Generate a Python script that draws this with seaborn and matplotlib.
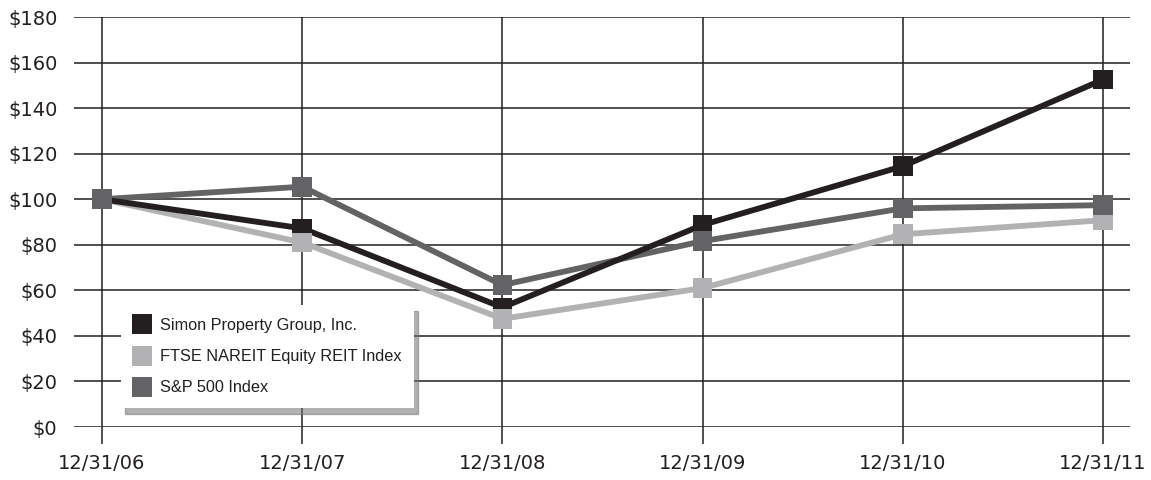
import matplotlib
matplotlib.use("Agg")
import matplotlib.pyplot as plt
import seaborn as sns
import pandas as pd
from matplotlib.lines import Line2D

dates = ["12/31/06", "12/31/07", "12/31/08", "12/31/09", "12/31/10", "12/31/11"]
simon = [100, 87.2, 52.5, 88.7, 114.5, 152.5]
ftse = [100, 81.0, 47.5, 61.0, 84.6, 90.8]
sp500 = [100, 105.5, 62.3, 81.6, 96.0, 97.4]
series_names = ["Simon Property Group, Inc.", "FTSE NAREIT Equity REIT Index", "S&P 500 Index"]
series_colors = ["#231f20", "#b2b2b4", "#636365"]
yticks = [0, 20, 40, 60, 80, 100, 120, 140, 160, 180]

rows = []
for name, vals in zip(series_names, [simon, ftse, sp500]):
    for d, v in zip(dates, vals):
        rows.append({"date": d, "value": v, "series": name})
df = pd.DataFrame(rows)
palette = dict(zip(series_names, series_colors))

sns.set_theme(style="white")
plt.rcParams["font.family"] = ["DejaVu Sans"]

fig = plt.figure(figsize=(11.51, 4.8), dpi=100)
ax = fig.add_axes([74 / 1151, 1 - 427 / 480, (1130 - 74) / 1151, (427 - 17) / 480])

# lines: FTSE, S&P, then Simon on top
line_order = [series_names[1], series_names[2], series_names[0]]
sns.lineplot(data=df, x="date", y="value", hue="series", hue_order=line_order,
             palette=palette, linewidth=4.2, legend=False, ax=ax, zorder=3,
             sort=False)

# markers: Simon, FTSE, S&P on top
marker_df = pd.concat([df[df.series == n] for n in [series_names[0], series_names[1], series_names[2]]])
sns.scatterplot(data=marker_df, x="date", y="value", hue="series", palette=palette,
                marker="s", s=200, linewidth=0, legend=False, ax=ax, zorder=4)

ax.set_ylim(0, 180)
ax.set_xlim(-0.14, 5.135)
ax.set_yticks(yticks)
ax.set_yticklabels([f"${v}" for v in yticks])
ax.set_xlabel("")
ax.set_ylabel("")

for s in ax.spines.values():
    s.set_visible(False)

ax.grid(True, axis="both", color="#231f20", linewidth=1.1)
ax.set_axisbelow(True)
ax.tick_params(axis="y", length=0, pad=12, labelsize=14, labelcolor="#231f20")
ax.tick_params(axis="x", length=12.5, width=1.1, color="#231f20", direction="out",
               pad=7, labelsize=14, labelcolor="#231f20")
ax.xaxis.set_ticks_position("bottom")

handles = [Line2D([0], [0], marker="s", linestyle="none", markersize=14,
                  markerfacecolor=c, markeredgewidth=0) for c in series_colors]
leg = ax.legend(handles, series_names, loc="lower left",
                bbox_to_anchor=(121 / 1151, 1 - 408 / 480), bbox_transform=fig.transFigure,
                borderaxespad=0, frameon=True, fancybox=False, edgecolor="none",
                facecolor="white", framealpha=1,
                shadow={"ox": 3, "oy": -4, "color": "0.45", "alpha": 0.55},
                prop={"family": "Liberation Sans", "size": 11.7},
                labelcolor="#231f20", handlelength=1.0, handletextpad=0.63,
                labelspacing=1.0, borderpad=0.77)
leg.set_zorder(10)

fig.savefig("out.png", dpi=100)
